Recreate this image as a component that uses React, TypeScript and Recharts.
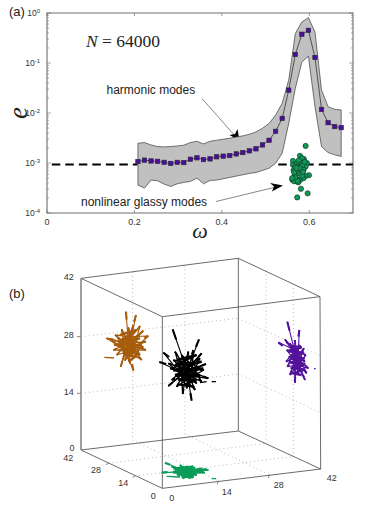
import {
  ComposedChart,
  Area,
  Line,
  Scatter,
  XAxis,
  YAxis,
  ReferenceArea,
  ReferenceDot,
  ReferenceLine,
} from "recharts";

// panel (a)
const omega = [
  0.208, 0.223, 0.238, 0.253, 0.268, 0.283, 0.298, 0.313, 0.328, 0.343, 0.358, 0.373, 0.388, 0.403, 0.418, 0.433,
  0.448, 0.463, 0.478, 0.493, 0.508, 0.523, 0.538, 0.553, 0.568, 0.583, 0.598, 0.613, 0.628, 0.643, 0.658, 0.673,
];
const harmonicMean = [
  1.07e-3, 1.14e-3, 1.1e-3, 1.08e-3, 1.03e-3, 0.98e-3, 1.03e-3, 1.02e-3, 1.19e-3, 1.27e-3, 1.17e-3, 1.21e-3, 1.33e-3,
  1.37e-3, 1.41e-3, 1.52e-3, 1.62e-3, 1.75e-3, 1.92e-3, 2.3e-3, 2.85e-3, 4.3e-3, 7.8e-3, 0.0287, 0.148, 0.376, 0.45,
  0.129, 0.0118, 6.4e-3, 5.35e-3, 5.1e-3,
];
const harmonicUpper = [
  2.48e-3, 2.56e-3, 2.3e-3, 2.13e-3, 2.1e-3, 2.13e-3, 2.2e-3, 2.27e-3, 2.56e-3, 2.72e-3, 2.41e-3, 2.72e-3, 2.85e-3,
  2.99e-3, 3.13e-3, 3.32e-3, 3.48e-3, 3.76e-3, 4.18e-3, 4.95e-3, 6.2e-3, 9.1e-3, 0.0156, 0.0455, 0.387, 0.662, 0.807,
  0.418, 0.0287, 0.0134, 0.0118, 0.0115,
];
const harmonicLower = [
  3.61e-4, 3.15e-4, 4.55e-4, 4.41e-4, 3.78e-4, 3.4e-4, 3.84e-4, 4.09e-4, 4.28e-4, 4.99e-4, 3.84e-4, 4.48e-4, 4.55e-4,
  4.83e-4, 5.14e-4, 5.47e-4, 5.81e-4, 6.18e-4, 6.47e-4, 7.09e-4, 7.89e-4, 9.9e-4, 1.57e-3, 6.2e-3, 0.031, 0.105, 0.137,
  0.0134, 2.13e-3, 1.62e-3, 1.46e-3, 1.35e-3,
];
const glassyOmega = [
  0.5916, 0.5786, 0.5878, 0.5626, 0.5626, 0.5718, 0.5794, 0.5947, 0.5916, 0.584, 0.5641, 0.5733, 0.587, 0.5992, 0.5916,
  0.5672, 0.5794, 0.5611, 0.5702, 0.5794, 0.5656, 0.5748, 0.587, 0.5809, 0.5962, 0.5725, 0.5679, 0.578, 0.5832, 0.5733,
  0.5679, 0.584, 0.5655, 0.5755, 0.5895, 0.561, 0.5855, 0.5705,
];
const glassyE = [
  2.2e-3, 1.39e-3, 1.19e-3, 1.1e-3, 9.2e-4, 9.9e-4, 1.04e-3, 9.9e-4, 8.5e-4, 8.9e-4, 7.1e-4, 7.1e-4, 7.3e-4, 5.7e-4,
  5.5e-4, 5.8e-4, 6.1e-4, 4.6e-4, 4.9e-4, 4.6e-4, 4.3e-4, 4.1e-4, 5.0e-4, 3.05e-4, 2.47e-4, 2.05e-4, 8.5e-4, 7.9e-4,
  1.25e-3, 4.4e-4, 5.2e-4, 5.5e-4, 6.5e-4, 1.12e-3, 1.05e-3, 5.0e-4, 6.6e-4, 8.0e-4,
];
const thresholdE = 9.3e-4;
const xTicks = [0, 0.2, 0.4, 0.6];
const yDecades = [1e-4, 1e-3, 1e-2, 1e-1, 1];
const yMinor = [
  2e-4, 3e-4, 4e-4, 5e-4, 6e-4, 7e-4, 8e-4, 9e-4, 2e-3, 3e-3, 4e-3, 5e-3, 6e-3, 7e-3, 8e-3, 9e-3, 0.02, 0.03, 0.04,
  0.05, 0.06, 0.07, 0.08, 0.09, 0.2, 0.3, 0.4, 0.5, 0.6, 0.7, 0.8, 0.9,
];

const harmonicRows = omega.map((x, i) => ({
  x,
  mean: harmonicMean[i],
  band: [harmonicLower[i], harmonicUpper[i]],
}));
const glassyRows = glassyOmega.map((x, i) => ({ x, e: glassyE[i] }));
const thresholdRows = [
  { x: 0.011, e: thresholdE },
  { x: 0.207, e: thresholdE },
  { x: 0.207, e: null },
  { x: 0.529, e: null },
  { x: 0.529, e: thresholdE },
  { x: 0.7, e: thresholdE },
];

// panel (b): the cube as projected on the page, in picture units
type Pt = [number, number];
const corners: Record<string, Pt> = {
  A: [243, 115],
  B: [487, 230],
  C: [960, 170],
  D: [715, 55],
  E: [243, 630],
  F: [487, 745],
  G: [962, 687],
  H: [715, 573],
};
const boxEdges = ["AB", "BC", "CD", "DA", "BF", "CG", "DH", "EF", "FG", "GH", "HE"];
const gridLines: [number, number, number, number][] = [
  [398, 96, 398, 600],
  [555, 76, 555, 582],
  [798, 92, 798, 610],
  [880, 132, 880, 650],
  [243, 290, 715, 235],
  [243, 460, 715, 402],
  [715, 235, 960, 347],
  [715, 402, 960, 517],
  [398, 600, 655, 722],
  [555, 582, 808, 704],
  [325, 670, 798, 610],
  [405, 708, 880, 650],
];
const axisTicks: [number, number, number, number][] = [
  [231, 290, 243, 290],
  [231, 460, 243, 460],
  [325, 670, 318, 674],
  [405, 708, 398, 712],
  [655, 722, 652, 732],
  [808, 704, 805, 714],
];
const boxLabels: [string, number, number][] = [
  ["42", 206, 110],
  ["28", 206, 285],
  ["14", 206, 455],
  ["0", 216, 622],
  ["42", 205, 653],
  ["28", 288, 690],
  ["14", 370, 728],
  ["0", 460, 767],
  ["0", 515, 773],
  ["14", 680, 755],
  ["28", 836, 733],
  ["42", 995, 712],
];

const orangeHubs: Pt[] = [[385, 310], [395, 290], [375, 330], [400, 330]];
const orangeLong: Pt[] = [[378, 215], [408, 225], [400, 392]];
const orangeTips: Pt[] = [
  [320, 295], [345, 285], [365, 268], [385, 262], [400, 255], [420, 258], [430, 272], [445, 288], [438, 305],
  [430, 322], [438, 330], [420, 345], [425, 360], [410, 352], [390, 370], [375, 362], [362, 380], [350, 345],
  [340, 330], [342, 315], [335, 300], [360, 300], [352, 292], [410, 320], [415, 285], [370, 340], [395, 345],
];
const orangeLoose: [number, number, number, number][] = [[313, 352, 342, 354], [318, 295, 340, 297]];
const orangeCore: Pt[] = [
  [360, 285], [410, 270], [365, 300], [420, 295], [352, 315], [425, 315], [358, 330], [415, 335], [370, 345],
  [405, 350], [385, 365],
];

const blackHubs: Pt[] = [[560, 390], [570, 370], [545, 405], [575, 410]];
const blackLong: Pt[] = [[518, 268], [597, 298], [490, 338], [478, 366], [575, 482]];
const blackTips: Pt[] = [
  [525, 335], [545, 345], [565, 335], [580, 330], [605, 340], [600, 355], [618, 372], [612, 390], [625, 415],
  [605, 425], [590, 430], [600, 410], [585, 450], [560, 445], [548, 462], [530, 440], [505, 438], [515, 420],
  [530, 410], [510, 385], [505, 370], [520, 360], [540, 370], [575, 370], [590, 380], [550, 420], [570, 415], [535, 395],
];
const blackLoose: [number, number, number, number][] = [[635, 425, 648, 425], [600, 428, 620, 425]];
const blackCore: Pt[] = [
  [530, 360], [590, 345], [525, 375], [605, 365], [520, 392], [610, 385], [525, 405], [600, 405], [535, 420],
  [590, 420], [550, 435], [580, 440],
];

const purpleHubs: Pt[] = [[888, 350], [893, 375], [885, 330]];
const purpleLong: Pt[] = [[862, 245], [898, 270], [835, 307]];
const purpleTips: Pt[] = [
  [855, 298], [870, 310], [885, 300], [900, 315], [912, 325], [918, 345], [915, 365], [925, 385], [920, 400],
  [905, 395], [915, 420], [895, 405], [885, 428], [870, 405], [862, 380], [858, 365], [872, 345], [860, 330],
  [880, 380], [905, 350], [890, 330], [900, 385],
];
const purpleLoose: [number, number, number, number][] = [[942, 386, 947, 386]];
const purpleCore: Pt[] = [
  [872, 318], [905, 322], [866, 335], [912, 338], [866, 352], [914, 355], [868, 368], [916, 372], [872, 385],
  [914, 388], [880, 400], [905, 405],
];

const greenHubs: Pt[] = [[555, 692], [575, 695], [540, 695]];
const greenLong: Pt[] = [[495, 668], [485, 698]];
const greenTips: Pt[] = [
  [515, 680], [540, 675], [560, 678], [585, 682], [625, 690], [615, 698], [590, 705], [570, 716], [550, 716],
  [535, 708], [520, 695], [545, 690], [575, 695], [600, 692], [605, 685], [565, 685], [555, 705], [580, 712],
];
const greenLoose: [number, number, number, number][] = [[500, 709, 540, 711], [635, 716, 648, 716]];
const greenCore: Pt[] = [
  [520, 685], [580, 680], [525, 692], [620, 688], [520, 698], [610, 696], [530, 703], [590, 702], [545, 710], [580, 712],
];

const segmentRows = (segs: number[][]) =>
  segs.flatMap(([x1, y1, x2, y2]) => [
    { x: x1, y: y1 },
    { x: x2, y: y2 },
    { x: x2, y: null },
  ]);
const starRows = (hubs: Pt[], tips: Pt[], shift = 0) =>
  segmentRows(tips.map(([x, y], i) => [...hubs[(i + shift) % hubs.length], x, y]));
const headRows = (hub: Pt, tips: Pt[], share: number) =>
  segmentRows(tips.map(([x, y]) => [x + (hub[0] - x) * share, y + (hub[1] - y) * share, x, y]));
const pathRows = (pts: Pt[]) => pts.map(([x, y]) => ({ x, y }));

const clusters = [
  { color: "#a65d0d", hubs: orangeHubs, long: orangeLong, tips: orangeTips, loose: orangeLoose, core: orangeCore },
  { color: "#000000", hubs: blackHubs, long: blackLong, tips: blackTips, loose: blackLoose, core: blackCore },
  { color: "#54129c", hubs: purpleHubs, long: purpleLong, tips: purpleTips, loose: purpleLoose, core: purpleCore },
  { color: "#0a9c58", hubs: greenHubs, long: greenLong, tips: greenTips, loose: greenLoose, core: greenCore },
];

const PLOT_LEFT = 47;
const PLOT_RIGHT = 353;
const PLOT_TOP = 13;
const PLOT_BOTTOM = 213;
const CHART_A_HEIGHT = 252;
const AXIS_COLOR = "#6e6e6e";
const SANS = "'Liberation Sans', Arial, sans-serif";
const SERIF = "'Liberation Serif', serif";

const XTick = ({ x, payload }: any) => (
  <g>
    <line x1={x} x2={x} y1={PLOT_BOTTOM} y2={PLOT_BOTTOM - 3} stroke={AXIS_COLOR} strokeWidth={0.7} />
    <line x1={x} x2={x} y1={PLOT_TOP} y2={PLOT_TOP + 3} stroke={AXIS_COLOR} strokeWidth={0.7} />
    <text x={x} y={PLOT_BOTTOM + 12} textAnchor="middle" fontSize={9} fontFamily={SANS} fill="#333">
      {payload.value}
    </text>
  </g>
);

const YTick = ({ y, payload }: any) => {
  const isDecade = yDecades.includes(payload.value);
  const len = isDecade ? 4 : 2;
  return (
    <g>
      <line x1={PLOT_LEFT} x2={PLOT_LEFT + len} y1={y} y2={y} stroke={AXIS_COLOR} strokeWidth={0.6} />
      <line x1={PLOT_RIGHT - len} x2={PLOT_RIGHT} y1={y} y2={y} stroke={AXIS_COLOR} strokeWidth={0.6} />
      {isDecade && (
        <text x={PLOT_LEFT - 7} y={y + 3} textAnchor="end" fontSize={8.5} fontFamily={SANS} fill="#333">
          10
          <tspan dy={-3.5} fontSize={6}>
            {Math.round(Math.log10(payload.value))}
          </tspan>
        </text>
      )}
    </g>
  );
};

const SquareDot = ({ cx, cy }: any) =>
  cx == null || cy == null ? null : (
    <rect x={cx - 2.2} y={cy - 2.2} width={4.4} height={4.4} fill="#4b0e96" stroke="#2a2340" strokeWidth={0.6} />
  );

const GlassyDot = ({ cx, cy }: any) => (
  <circle cx={cx} cy={cy} r={2.6} fill="#0d9b58" stroke="#12382a" strokeWidth={0.7} />
);

function Annotations() {
  return (
    <g>
      <text x={9} y={16} fontSize={13} fontFamily={SANS} fill="#222">
        (a)
      </text>
      <text x={86} y={47} fontSize={17.5} fontFamily={SERIF} fill="#222">
        <tspan fontStyle="italic">N</tspan> = 64000
      </text>
      <text x={106.5} y={94} fontSize={12} fontFamily={SANS} fill="#222">
        harmonic modes
      </text>
      <text x={81} y={206} fontSize={12} fontFamily={SANS} fill="#222">
        nonlinear glassy modes
      </text>
      <line x1={202} y1={98.5} x2={236} y2={137} stroke="#555" strokeWidth={0.7} />
      <path d="M239.5 140.5 L229.5 135 L235 134 L237.5 129 Z" fill="#000" />
      <line x1={216} y1={201.5} x2={276} y2={187} stroke="#555" strokeWidth={0.7} />
      <path d="M283 185.5 L272 191.5 L274 186.5 L270 183 Z" fill="#000" />
      <text
        x={18}
        y={113}
        transform="rotate(-90 18 113)"
        textAnchor="middle"
        dominantBaseline="central"
        fontSize={27}
        fontStyle="italic"
        fontFamily={SERIF}
        fill="#222"
      >
        e
      </text>
      <text x={200} y={238} textAnchor="middle" fontSize={22} fontStyle="italic" fontFamily={SERIF} fill="#222">
        ω
      </text>
    </g>
  );
}

function ModesPanel() {
  return (
    <ComposedChart
      width={366}
      height={CHART_A_HEIGHT}
      data={harmonicRows}
      margin={{ top: PLOT_TOP, right: 366 - PLOT_RIGHT, bottom: 0, left: 0 }}
    >
      <XAxis
        type="number"
        dataKey="x"
        domain={[0, 0.7]}
        ticks={xTicks}
        interval={0}
        height={CHART_A_HEIGHT - PLOT_BOTTOM}
        tick={<XTick />}
        tickLine={false}
        axisLine={false}
      />
      <YAxis
        type="number"
        scale="log"
        domain={[1e-4, 1]}
        ticks={[...yDecades, ...yMinor]}
        interval={0}
        width={PLOT_LEFT}
        tick={<YTick />}
        tickLine={false}
        axisLine={false}
        allowDataOverflow
      />
      <Line
        data={thresholdRows}
        dataKey="e"
        stroke="#000"
        strokeWidth={2}
        strokeDasharray="8.5 5"
        dot={false}
        isAnimationActive={false}
      />
      <Area
        dataKey="band"
        type="linear"
        fill="#c0c0c0"
        fillOpacity={1}
        stroke="#3c3c3c"
        strokeWidth={0.7}
        dot={false}
        isAnimationActive={false}
      />
      <ReferenceLine
        segment={[
          { x: omega[0], y: harmonicLower[0] },
          { x: omega[0], y: harmonicUpper[0] },
        ]}
        stroke="#3c3c3c"
        strokeWidth={0.7}
      />
      <ReferenceLine
        segment={[
          { x: omega[31], y: harmonicLower[31] },
          { x: omega[31], y: harmonicUpper[31] },
        ]}
        stroke="#3c3c3c"
        strokeWidth={0.7}
      />
      <Line
        dataKey="mean"
        type="linear"
        stroke="#333"
        strokeWidth={0.8}
        dot={<SquareDot />}
        isAnimationActive={false}
      />
      <Scatter data={glassyRows} dataKey="e" shape={<GlassyDot />} isAnimationActive={false} />
      <ReferenceArea x1={0} x2={0.7} y1={1e-4} y2={1} fill="none" stroke={AXIS_COLOR} strokeWidth={1.1} />
      <Annotations />
    </ComposedChart>
  );
}

function BoxPanel() {
  const edgeRows = segmentRows(boxEdges.map((e) => [...corners[e[0]], ...corners[e[1]]]));
  return (
    <ComposedChart width={366} height={274} margin={{ top: 0, right: 0, bottom: 0, left: 0 }}>
      <XAxis type="number" dataKey="x" domain={[0, 1098]} hide />
      <YAxis type="number" domain={[0, 822]} reversed hide />
      <Line data={segmentRows(gridLines)} dataKey="y" stroke="#a8a8a8" strokeWidth={0.8} strokeDasharray="1 3" dot={false} isAnimationActive={false} />
      <Line data={segmentRows(axisTicks)} dataKey="y" stroke="#555" strokeWidth={0.7} dot={false} isAnimationActive={false} />
      <Line data={edgeRows} dataKey="y" stroke="#5a5a5a" strokeWidth={0.9} dot={false} isAnimationActive={false} />
      <Line
        data={segmentRows([[...corners.A, ...corners.E]])}
        dataKey="y"
        stroke="#888"
        strokeWidth={1.6}
        dot={false}
        isAnimationActive={false}
      />
      {clusters.flatMap((c, i) => [
        <Line
          key={`core${i}`}
          data={pathRows(c.core)}
          dataKey="y"
          stroke={c.color}
          strokeWidth={2.4}
          dot={false}
          isAnimationActive={false}
        />,
        <Line
          key={`tips${i}`}
          data={starRows(c.hubs, c.tips)}
          dataKey="y"
          stroke={c.color}
          strokeWidth={1.4}
          dot={false}
          isAnimationActive={false}
        />,
        <Line
          key={`tipsb${i}`}
          data={starRows(c.hubs, c.tips, 2)}
          dataKey="y"
          stroke={c.color}
          strokeWidth={1.2}
          dot={false}
          isAnimationActive={false}
        />,
        <Line
          key={`tipHead${i}`}
          data={headRows(c.hubs[0], c.tips, 0.22)}
          dataKey="y"
          stroke={c.color}
          strokeWidth={1.9}
          dot={false}
          isAnimationActive={false}
        />,
        <Line
          key={`long${i}`}
          data={starRows(c.hubs, c.long)}
          dataKey="y"
          stroke={c.color}
          strokeWidth={1.1}
          dot={false}
          isAnimationActive={false}
        />,
        <Line
          key={`head${i}`}
          data={headRows(c.hubs[0], c.long, 0.25)}
          dataKey="y"
          stroke={c.color}
          strokeWidth={2.1}
          dot={false}
          isAnimationActive={false}
        />,
        <Line
          key={`loose${i}`}
          data={segmentRows(c.loose)}
          dataKey="y"
          stroke={c.color}
          strokeWidth={1.4}
          dot={false}
          isAnimationActive={false}
        />,
      ])}
      {boxLabels.map(([value, x, y], i) => (
        <ReferenceDot
          key={i}
          x={x}
          y={y}
          r={0}
          stroke="none"
          label={{ value, position: "center", fontSize: 9, fontFamily: SANS, fill: "#333" }}
        />
      ))}
      <text x={9} y={298 - 240} fontSize={13} fontFamily={SANS} fill="#222">
        (b)
      </text>
    </ComposedChart>
  );
}

export default function App() {
  return (
    <div style={{ position: "absolute", left: 0, top: 0, width: 366, height: 514, background: "#fff" }}>
      <ModesPanel />
      <div style={{ position: "absolute", left: 0, top: 240 }}>
        <BoxPanel />
      </div>
    </div>
  );
}
